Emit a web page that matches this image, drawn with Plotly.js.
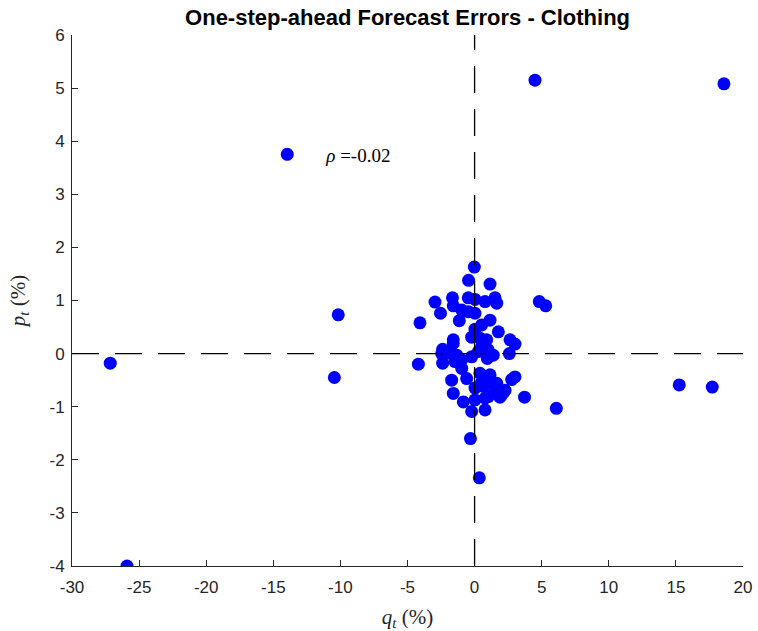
<!DOCTYPE html>
<html>
<head>
<meta charset="utf-8">
<script src="https://cdn.plot.ly/plotly-3.0.1.min.js"></script>
<style>html,body{margin:0;padding:0;background:#fff;}#chart{width:758px;height:631px;}</style>
</head>
<body>
<div id="chart"></div>
<script>
// Forecast errors: q_t (%) on x, p_t (%) on y
const qErr = [4.50, 18.58, -27.15, -25.9, -10.16, -10.45, 15.25, 17.71,
  -0.02, -0.45, 1.15, -2.95, -1.65, -0.47, 0.03, 0.78, 1.52, 1.65, 4.82, 5.30,
  -2.54, -1.59, -0.96, -0.47, 0.03, -4.07, -1.14, 1.15, 0.53, 0.03, 1.77,
  -0.22, 0.40, 0.90, -1.59, 2.64, 3.01, -2.38, -1.59, -2.45, -4.19, -2.38,
  -1.59, -0.96, -0.22, 0.28, 0.95, 1.39, 2.59, -0.96, -1.71, -0.59, 0.40,
  1.15, 0.53, 1.27, 1.65, 2.76, 3.01, -1.59, 0.03, 0.65, 2.19, 1.89, 3.72,
  -0.84, 0.03, 0.78, -0.22, 0.78, 6.09, -0.31, 0.35, -1.33, -2.08, -1.46,
  1.52, 1.02, 2.02, 2.27, 0.53, 1.02];
const pErr = [5.15, 5.08, -0.18, -4.0, 0.73, -0.45, -0.59, -0.63,
  1.63, 1.38, 1.31, 0.97, 1.05, 1.05, 1.02, 0.98, 1.05, 0.95, 0.98, 0.90,
  0.76, 0.90, 0.82, 0.79, 0.76, 0.58, 0.62, 0.63, 0.54, 0.46, 0.41,
  0.31, 0.29, 0.26, 0.26, 0.26, 0.18, 0.08, 0.19, 0.00, -0.20, -0.18,
  -0.03, -0.12, -0.06, 0.04, -0.09, -0.03, 0.00, -0.28, -0.50, -0.47, -0.37,
  -0.40, -0.53, -0.56, -0.56, -0.49, -0.44, -0.75, -0.65, -0.62, -0.72, -0.82, -0.82,
  -0.91, -0.87, -0.84, -1.09, -1.06, -1.03, -1.60, -2.34, -0.03, 0.01, -0.15,
  -0.65, -0.81, -0.78, -0.69, 0.13, 0.07];
const rhoLabel = '<i>ρ</i> =-0.02';
const xTicks = [-30, -25, -20, -15, -10, -5, 0, 5, 10, 15, 20];
const yTicks = [-4, -3, -2, -1, 0, 1, 2, 3, 4, 5, 6];

const axisColor = '#262626';
const sans = 'Liberation Sans, Arial, sans-serif';
const serif = 'Liberation Serif, Times New Roman, serif';
const trace = {
  x: qErr, y: pErr, type: 'scatter', mode: 'markers',
  name: '&nbsp;&nbsp;&nbsp;&nbsp;' + rhoLabel,
  marker: {color: '#0000ff', size: 13, line: {width: 0}},
  showlegend: true
};

const dash = '27px,16px';
const layout = {
  width: 758, height: 631,
  margin: {l: 72, r: 15, t: 35, b: 65},
  paper_bgcolor: '#fff', plot_bgcolor: '#fff',
  title: {text: '<b>One-step-ahead Forecast Errors - Clothing</b>',
    font: {family: sans, size: 22, color: '#000'},
    x: 0.5377, xanchor: 'center', y: 0.972, yanchor: 'middle'},
  xaxis: {range: [-30, 20], tickvals: xTicks, ticktext: xTicks.map(String),
    showgrid: false, zeroline: false, showline: true, linecolor: axisColor, linewidth: 1,
    ticks: 'inside', ticklen: 6, tickcolor: axisColor, mirror: false,
    ticklabelstandoff: 6,
    tickfont: {family: sans, size: 17, color: axisColor},
    title: {text: '<i>q</i><sub><i>t</i></sub> (%)', standoff: 12,
      font: {family: serif, size: 21, color: axisColor}}},
  yaxis: {range: [-4, 6], tickvals: yTicks, ticktext: yTicks.map(String),
    showgrid: false, zeroline: false, showline: true, linecolor: axisColor, linewidth: 1,
    ticks: 'inside', ticklen: 6, tickcolor: axisColor,
    ticklabelstandoff: 3,
    tickfont: {family: sans, size: 17, color: axisColor},
    title: {text: '<i>p</i><sub><i>t</i></sub> (%)', standoff: 18,
      font: {family: serif, size: 21, color: axisColor}}},
  legend: {x: 0.291, y: 0.775, xanchor: 'left', yanchor: 'middle',
    bgcolor: 'rgba(0,0,0,0)', borderwidth: 0,
    font: {family: serif, size: 19, color: '#000'}},
  shapes: [
    {type: 'line', xref: 'x', yref: 'y domain', x0: 0, x1: 0, y0: 0, y1: 1,
      line: {color: '#000', width: 1.3, dash: dash}, layer: 'above'},
    {type: 'line', xref: 'x domain', yref: 'y', x0: 0, x1: 1, y0: 0, y1: 0,
      line: {color: '#000', width: 1.3, dash: dash}, layer: 'above'}
  ]
};
Plotly.newPlot('chart', [trace], layout, {displayModeBar: false, staticPlot: true});
</script>
</body>
</html>
